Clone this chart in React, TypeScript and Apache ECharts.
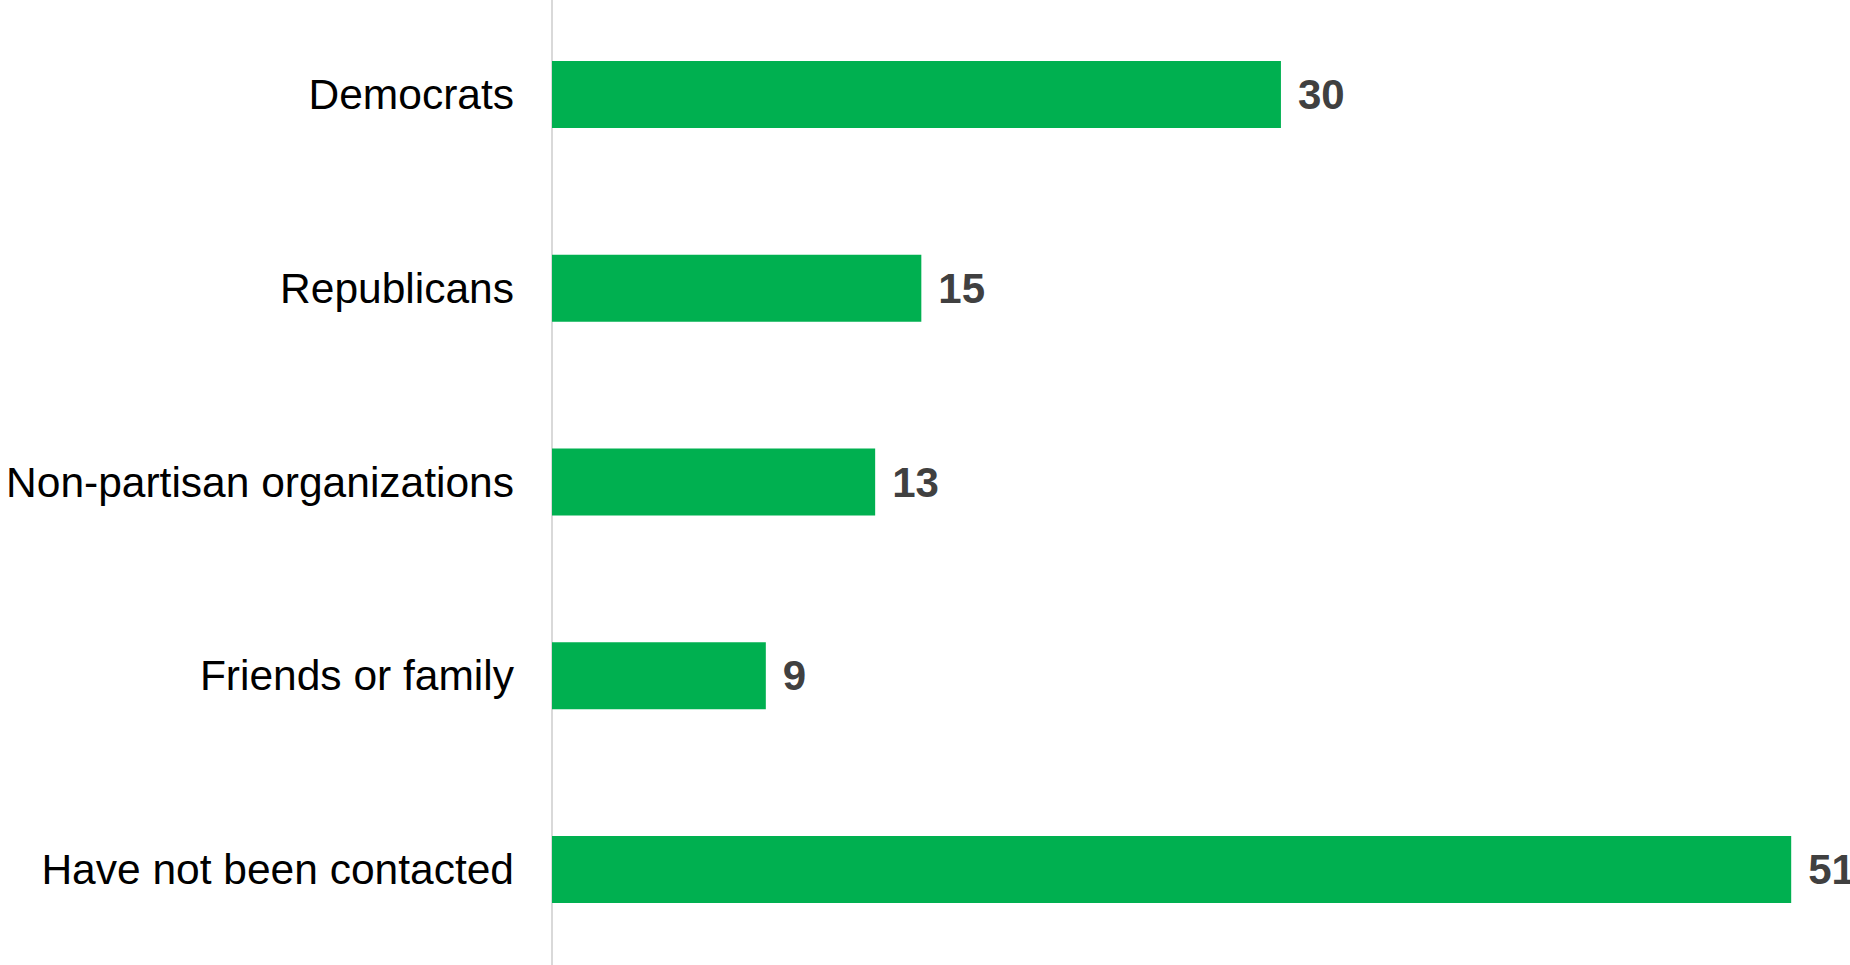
import React, { useEffect, useRef } from "react";
import * as echarts from "echarts";

const categories = [
  "Democrats",
  "Republicans",
  "Non-partisan organizations",
  "Friends or family",
  "Have not been contacted",
];
// bar lengths; labels show rounded values
const values = [30, 15.2, 13.3, 8.8, 51];

export default function App() {
  const ref = useRef<HTMLDivElement>(null);
  useEffect(() => {
    if (!ref.current) return;
    const chart = echarts.init(ref.current, undefined, { renderer: "svg" });
    chart.setOption({
      animation: false,
      backgroundColor: "#ffffff",
      grid: {
        left: 552,
        right: 0,
        top: -2.4,
        height: 968.8,
        containLabel: false,
        outerBoundsMode: "none",
      },
      xAxis: {
        type: "value",
        min: 0,
        max: 53.42,
        show: false,
        splitLine: { show: false },
      },
      yAxis: {
        type: "category",
        data: categories,
        inverse: true,
        axisLine: { show: true, lineStyle: { color: "#d9d9d9", width: 2 } },
        axisTick: { show: false },
        axisLabel: {
          color: "#000000",
          fontSize: 42.5,
          fontFamily: "Liberation Sans, Arial, sans-serif",
          margin: 38,
        },
      },
      series: [
        {
          type: "bar",
          data: values,
          barWidth: 67,
          itemStyle: { color: "#00B050" },
          label: {
            show: true,
            position: "right",
            distance: 17,
            color: "#404040",
            fontWeight: "bold",
            fontSize: 42,
            fontFamily: "Liberation Sans, Arial, sans-serif",
            formatter: (p: any) => String(Math.round(p.value)),
          },
        },
      ],
    });
    return () => chart.dispose();
  }, []);
  return (
    <div
      ref={ref}
      style={{ position: "absolute", left: 0, top: 0, width: 1850, height: 965 }}
    />
  );
}
